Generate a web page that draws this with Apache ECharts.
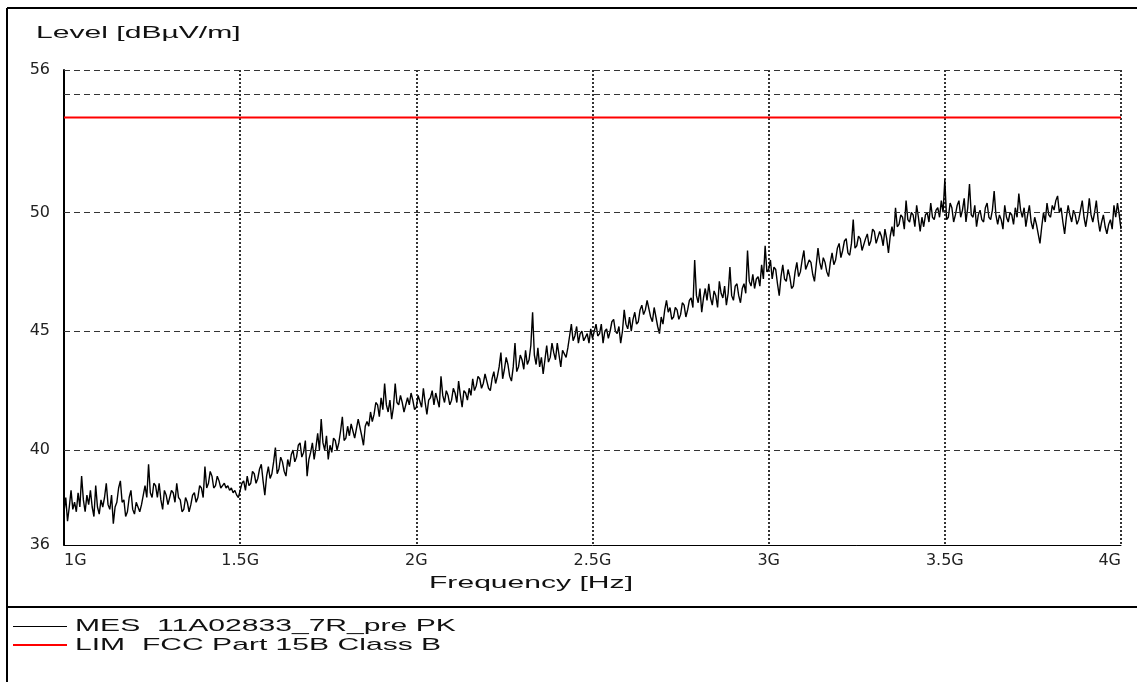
<!DOCTYPE html>
<html><head><meta charset="utf-8">
<script src="https://cdn.jsdelivr.net/npm/echarts@6/dist/echarts.min.js"></script>
<style>html,body{margin:0;padding:0;background:#fff}#c{width:1137px;height:682px}</style>
</head><body><div id="c"></div>
<script>
const yAxisTitle = 'Level [dBµV/m]';
const xAxisTitle = 'Frequency [Hz]';
const xTickValues = [1, 1.5, 2, 2.5, 3, 3.5, 4];
const xTickLabels = ['1G', '1.5G', '2G', '2.5G', '3G', '3.5G', '4G'];
const yTickLabels = [36, 40, 45, 50, 56];
const yGridValues = [40, 45, 50, 55, 56];
const mesName = 'MES  11A02833_7R_pre PK';
const limName = 'LIM  FCC Part 15B Class B';
const mesStartGHz = 1.0;
const mesStepGHz = 0.005;
const mesLevels = [
37.4, 38.0, 37.0, 37.6, 38.3, 37.5, 37.8, 37.4, 38.2, 37.6, 38.9, 37.9, 37.4, 38.1, 37.7, 38.3, 37.6, 37.2, 38.5, 37.6,
37.3, 37.9, 37.6, 38.0, 38.6, 37.7, 37.5, 38.1, 36.9, 37.6, 37.8, 38.4, 38.7, 37.8, 37.9, 37.2, 37.4, 38.0, 38.3, 37.5,
37.3, 37.8, 37.6, 37.4, 37.7, 38.1, 38.5, 38.0, 39.4, 38.2, 38.0, 38.6, 38.5, 38.0, 38.6, 37.9, 37.5, 38.3, 38.1, 37.7,
38.0, 38.3, 38.2, 37.8, 38.6, 38.0, 37.9, 37.4, 37.5, 38.0, 37.8, 37.4, 37.7, 38.1, 38.2, 37.8, 38.0, 38.5, 38.4, 38.0,
39.3, 38.4, 38.6, 39.1, 38.9, 38.4, 38.5, 38.9, 38.7, 38.4, 38.5, 38.6, 38.4, 38.5, 38.3, 38.4, 38.2, 38.3, 38.1, 38.0,
38.3, 38.6, 38.7, 38.3, 38.9, 38.5, 38.6, 39.1, 39.0, 38.6, 38.8, 39.2, 39.4, 38.7, 38.1, 38.9, 39.3, 38.8, 39.0, 39.5,
40.1, 39.0, 39.2, 39.7, 39.5, 39.1, 38.9, 39.6, 39.3, 39.8, 40.0, 39.5, 39.7, 40.2, 40.3, 39.7, 39.9, 40.4, 38.9, 39.6,
39.9, 40.3, 39.6, 40.1, 40.7, 40.0, 41.3, 40.3, 40.0, 40.6, 39.6, 40.2, 39.9, 40.5, 40.4, 40.0, 40.3, 40.8, 41.4, 40.4,
40.5, 41.0, 40.6, 41.1, 40.8, 40.5, 40.9, 41.3, 41.3, 40.6, 40.2, 41.0, 41.2, 41.0, 41.6, 41.2, 41.5, 42.0, 41.9, 41.4,
42.2, 41.7, 42.8, 41.9, 41.6, 42.1, 41.3, 41.8, 42.8, 42.0, 41.9, 42.3, 42.0, 41.6, 41.6, 42.2, 41.9, 42.4, 42.1, 41.7,
41.8, 42.3, 42.3, 41.8, 42.6, 42.0, 41.5, 42.1, 42.2, 42.5, 41.9, 42.4, 42.1, 41.8, 43.1, 42.3, 42.0, 42.5, 42.3, 41.9,
42.1, 42.6, 42.4, 42.0, 42.9, 42.3, 41.8, 42.5, 42.4, 42.1, 42.6, 42.3, 43.0, 42.5, 42.7, 43.1, 43.0, 42.6, 42.8, 43.2,
42.9, 42.6, 42.5, 43.0, 43.3, 42.8, 43.1, 43.5, 44.1, 43.0, 43.4, 43.9, 43.6, 43.1, 42.9, 43.5, 44.5, 43.3, 43.5, 44.0,
43.8, 43.4, 44.2, 43.6, 43.8, 44.4, 45.8, 44.0, 43.6, 44.3, 43.5, 43.9, 43.2, 43.8, 44.4, 43.7, 43.9, 44.5, 44.1, 43.8,
44.5, 44.0, 43.5, 44.2, 44.2, 43.9, 44.3, 44.8, 45.3, 44.6, 44.8, 45.2, 44.5, 44.9, 45.0, 44.6, 44.6, 44.9, 44.5, 45.1,
44.7, 45.0, 45.3, 44.8, 44.9, 45.3, 44.5, 45.0, 45.1, 44.7, 45.0, 45.4, 45.5, 45.0, 44.9, 45.2, 44.5, 45.0, 45.9, 45.3,
45.1, 45.6, 45.0, 45.5, 45.8, 45.3, 45.4, 45.9, 46.1, 45.7, 45.9, 46.3, 46.3, 45.6, 45.4, 46.0, 46.0, 45.2, 44.9, 45.6,
45.3, 45.9, 46.3, 45.8, 46.0, 45.5, 45.6, 46.0, 45.9, 45.5, 45.7, 46.2, 46.1, 45.6, 45.9, 46.3, 46.4, 46.0, 48.0, 46.5,
46.2, 46.8, 45.8, 46.4, 46.8, 46.3, 47.0, 46.4, 46.1, 46.7, 46.5, 46.0, 47.1, 46.6, 46.4, 46.9, 46.1, 46.6, 47.7, 46.5,
46.3, 46.9, 47.0, 46.5, 46.2, 46.8, 47.0, 46.6, 48.4, 47.1, 46.9, 47.4, 46.8, 47.2, 47.3, 46.9, 47.8, 47.2, 48.6, 47.5,
47.6, 48.0, 47.2, 47.7, 47.6, 47.0, 46.5, 47.3, 47.8, 47.2, 47.1, 47.6, 47.3, 46.8, 46.9, 47.5, 47.9, 47.3, 47.5, 48.0,
48.4, 47.6, 47.6, 48.0, 47.9, 47.4, 47.1, 47.8, 48.5, 47.9, 47.6, 48.1, 47.9, 47.5, 47.3, 47.9, 48.3, 47.8, 48.0, 48.5,
48.7, 48.1, 48.4, 48.8, 48.9, 48.3, 48.2, 48.7, 49.7, 48.5, 48.6, 49.0, 48.9, 48.4, 48.4, 48.9, 49.1, 48.6, 48.8, 49.3,
49.2, 48.7, 48.7, 49.2, 49.0, 48.6, 49.3, 48.9, 48.3, 49.0, 49.4, 49.0, 50.2, 49.4, 49.5, 49.9, 49.8, 49.3, 50.5, 49.7,
49.6, 50.0, 49.9, 49.4, 50.3, 49.8, 49.2, 49.8, 49.4, 49.9, 50.0, 49.6, 50.4, 49.8, 49.7, 50.1, 50.2, 49.8, 50.5, 50.0,
51.4, 49.7, 49.8, 50.4, 50.2, 49.6, 49.9, 50.3, 50.5, 49.8, 50.1, 50.6, 49.6, 50.2, 51.2, 49.9, 49.8, 50.3, 49.4, 49.9,
50.1, 49.7, 49.6, 50.2, 50.4, 49.8, 49.7, 50.1, 50.9, 49.9, 49.5, 49.9, 49.7, 49.3, 50.3, 49.8, 49.6, 50.0, 49.9, 49.5,
50.2, 49.8, 50.8, 50.1, 49.8, 50.2, 49.4, 49.9, 50.3, 49.6, 49.3, 49.8, 49.5, 49.1, 48.7, 49.4, 50.0, 49.6, 50.4, 49.9,
49.8, 50.3, 50.1, 50.5, 50.7, 50.0, 50.2, 49.6, 49.1, 49.8, 50.3, 49.9, 49.6, 50.1, 49.9, 49.5, 49.7, 50.1, 50.5, 49.8,
49.4, 49.9, 50.6, 49.9, 49.6, 50.0, 50.5, 49.7, 49.2, 49.6, 49.9, 49.4, 49.1, 49.5, 49.7, 49.3, 50.3, 49.8, 50.4, 49.9,
49.3
];
const limFreqGHz = [1, 4];
const limLevels = [54, 54];

const chart = echarts.init(document.getElementById('c'), null, { renderer: 'canvas' });
const mesData = mesLevels.map((v, i) => [+(mesStartGHz + i * mesStepGHz).toFixed(4), v]);
const limData = limFreqGHz.map((f, i) => [f, limLevels[i]]);
const txtFont = '17px "Liberation Sans", Arial, sans-serif';
const stretch = 1.77;

const option = {
  animation: false,
  backgroundColor: '#ffffff',
  grid: { left: 64, right: 16, top: 70, bottom: 137, containLabel: false, outerBoundsMode: 'none' },
  xAxis: {
    type: 'value', min: 1, max: 4, interval: 0.5,
    axisLine: { show: true, onZero: false, lineStyle: { color: '#000', width: 1 } },
    axisTick: { show: false },
    splitLine: { show: true, lineStyle: { color: '#333', type: [2, 2], width: 2 } },
    axisLabel: {
      color: '#222', fontFamily: 'DejaVu Sans', fontSize: 16, margin: 8,
      alignMinLabel: 'left', alignMaxLabel: 'right',
      formatter: v => { const i = xTickValues.indexOf(v); return i >= 0 ? xTickLabels[i] : ''; }
    }
  },
  yAxis: {
    type: 'value', min: 36, max: 56, interval: 1,
    axisLine: { show: true, lineStyle: { color: '#000', width: 2 } },
    axisTick: { show: false },
    splitLine: { show: false },
    axisLabel: {
      color: '#222', fontFamily: 'DejaVu Sans', fontSize: 16, margin: 14,
      formatter: v => yTickLabels.includes(v) ? String(v) : ''
    }
  },
  series: [
    {
      name: mesName, type: 'line', data: mesData, symbol: 'none', showSymbol: false,
      lineStyle: { color: '#000', width: 1.4 }, z: 3, silent: true
    },
    {
      name: limName, type: 'line', data: limData, symbol: 'none', showSymbol: false,
      lineStyle: { color: '#ff0000', width: 2 }, z: 4, silent: true,
      markLine: {
        silent: true, symbol: 'none', label: { show: false }, animation: false,
        lineStyle: { color: '#333', type: [6, 4], width: 1 },
        emphasis: { disabled: true },
        data: yGridValues.map(v => ({ yAxis: v }))
      }
    }
  ],
  graphic: [
    { type: 'line', shape: { x1: 7, y1: 8, x2: 7, y2: 682 }, style: { stroke: '#000', lineWidth: 2 }, silent: true },
    { type: 'line', shape: { x1: 7, y1: 8, x2: 1137, y2: 8 }, style: { stroke: '#000', lineWidth: 2 }, silent: true },
    { type: 'line', shape: { x1: 7, y1: 607, x2: 1137, y2: 607 }, style: { stroke: '#000', lineWidth: 2 }, silent: true },
    { type: 'text', x: 36, y: 33, scaleX: stretch, silent: true,
      style: { text: yAxisTitle, font: txtFont, fill: '#111', align: 'left', verticalAlign: 'middle' } },
    { type: 'text', x: 531, y: 583, scaleX: stretch, silent: true,
      style: { text: xAxisTitle, font: txtFont, fill: '#111', align: 'center', verticalAlign: 'middle' } },
    { type: 'line', shape: { x1: 13, y1: 626.5, x2: 67, y2: 626.5 }, style: { stroke: '#000', lineWidth: 1 }, silent: true },
    { type: 'text', x: 75, y: 626, scaleX: stretch, silent: true,
      style: { text: mesName, font: txtFont, fill: '#111', align: 'left', verticalAlign: 'middle' } },
    { type: 'line', shape: { x1: 13, y1: 645, x2: 67, y2: 645 }, style: { stroke: '#ff0000', lineWidth: 2 }, silent: true },
    { type: 'text', x: 75, y: 645, scaleX: stretch, silent: true,
      style: { text: limName, font: txtFont, fill: '#111', align: 'left', verticalAlign: 'middle' } }
  ]
};
chart.setOption(option);
</script>
</body></html>
